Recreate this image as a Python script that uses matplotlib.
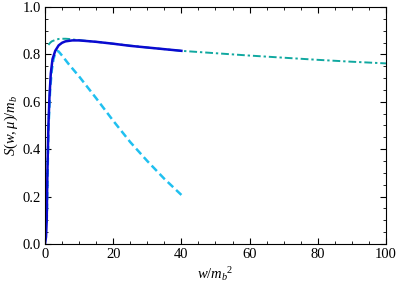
import matplotlib
matplotlib.use("Agg")
import matplotlib.pyplot as plt
from matplotlib.ticker import MultipleLocator

plt.rcParams['font.family'] = ['Liberation Serif', 'DejaVu Serif']
plt.rcParams['mathtext.fontset'] = 'custom'
plt.rcParams['mathtext.rm'] = 'Liberation Serif'
plt.rcParams['mathtext.it'] = 'Liberation Serif:italic'

# solid blue curve
w_solid = [0, 0.3, 0.5, 0.7, 1.0, 1.3, 1.7, 2.2, 3, 4, 5, 6, 8, 10, 15, 20, 25, 30, 35, 40]
s_solid = [0, 0.03, 0.10, 0.30, 0.50, 0.62, 0.72, 0.78, 0.815, 0.838, 0.849, 0.855, 0.859, 0.859,
           0.853, 0.845, 0.836, 0.829, 0.822, 0.815]

# teal dash-dot curve
w_dd = [1.0, 1.5, 2, 3, 4, 5, 6, 7, 8, 10, 15, 20, 25, 30, 35, 40, 50, 60, 70, 80, 90, 100]
s_dd = [0.84, 0.849, 0.855, 0.861, 0.865, 0.866, 0.866, 0.865, 0.863, 0.86, 0.853, 0.845, 0.837,
        0.829, 0.822, 0.815, 0.805, 0.795, 0.786, 0.777, 0.769, 0.762]

# light blue dashed curve
w_dash = [0.5, 1.0, 1.5, 2.0, 2.5, 3, 3.5, 4, 5, 7, 10, 15, 20, 25, 30, 35, 40]
s_dash = [0.09, 0.48, 0.65, 0.735, 0.78, 0.805, 0.815, 0.812, 0.795, 0.758, 0.707, 0.615, 0.52,
          0.43, 0.35, 0.275, 0.207]

fig = plt.figure(figsize=(3.99, 2.91), dpi=100)
ax = fig.add_axes([0.1128, 0.1615, 0.8546, 0.8145])

ax.plot(w_dash, s_dash, color='#20c0f0', lw=1.8, dashes=(3.0, 1.6))
ax.plot(w_dd, s_dd, color='#10a8a0', lw=1.4, dashes=(4.0, 1.5, 1.2, 1.5))
ax.plot(w_solid, s_solid, color='#0a0ad0', lw=1.8)

ax.set_xlim(0, 100)
ax.set_ylim(0, 1.0)
ax.xaxis.set_major_locator(MultipleLocator(20))
ax.xaxis.set_minor_locator(MultipleLocator(5))
ax.yaxis.set_major_locator(MultipleLocator(0.2))
ax.yaxis.set_minor_locator(MultipleLocator(0.05))
ax.set_yticklabels([f'{v:.1f}' for v in ax.get_yticks()])
ax.tick_params(which='both', direction='in', top=True, right=True, labelsize=10.5, pad=3)
ax.tick_params(which='major', length=4, width=0.8)
ax.tick_params(which='minor', length=2, width=0.6)
for sp in ax.spines.values():
    sp.set_linewidth(0.8)

ax.set_xlabel(r'$w/m_b{}^2$', fontsize=10.5, labelpad=3)
ax.set_ylabel(r'$S(w,\mu)/m_b$', fontsize=10.5, labelpad=2)

fig.savefig('out.png', dpi=100)
